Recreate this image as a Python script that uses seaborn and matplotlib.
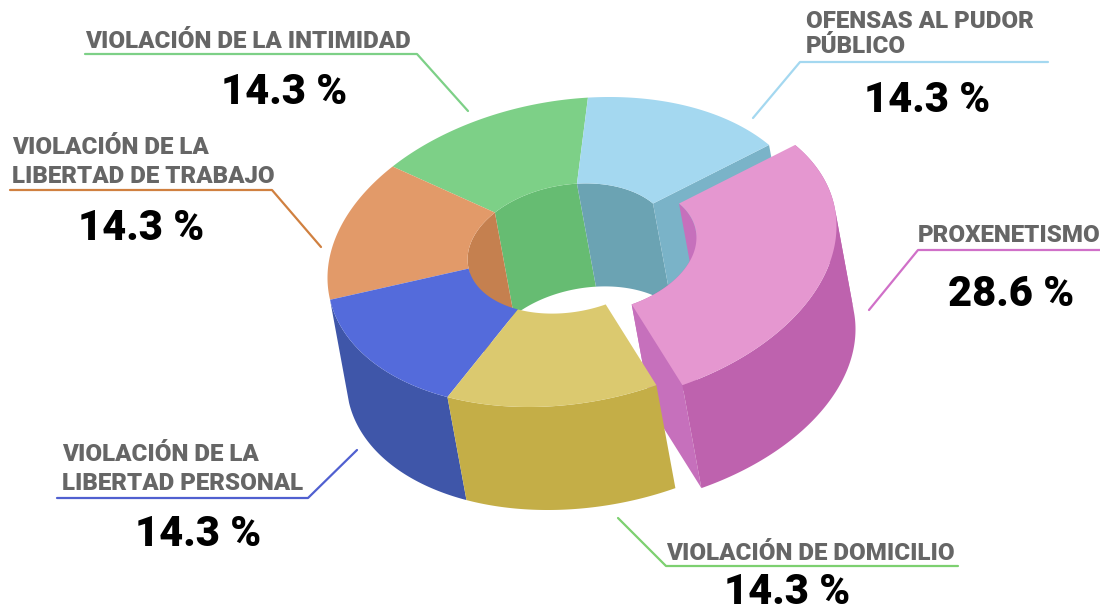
"""
Exploded 3D donut: delitos por categoria
Top faces, walls and cut faces are projected from the share of each category
"""

import numpy as np
import matplotlib
matplotlib.use('Agg')
import matplotlib.pyplot as plt
import seaborn as sns

# Data, counter-clockwise on screen from the green / light blue boundary
categories = ['VIOLACIÓN DE LA INTIMIDAD', 'VIOLACIÓN DE LA\nLIBERTAD DE TRABAJO',
              'VIOLACIÓN DE LA\nLIBERTAD PERSONAL', 'VIOLACIÓN DE DOMICILIO',
              'PROXENETISMO', 'OFENSAS AL PUDOR\nPÚBLICO']
shares = [14.3, 14.3, 14.3, 14.3, 28.6, 14.3]

top_colors = ['#7DD087', '#E29A69', '#546BDB', '#DBC96F', '#E597D0', '#A4D8F0']
wall_colors = ['#7DD087', '#E29A69', '#3F56A9', '#C4AE47', '#BE62AE', '#7AB3C8']
inner_colors = ['#66BC72', '#C5804F', '#3F56A9', '#C4AE47', '#C670BC', '#6BA3B3']
cut_pink = '#C670BC'
line_colors = ['#7DD087', '#D08040', '#5060D0', '#7DD070', '#D070C8', '#A4D8F0']

# Layout in pixels: leader polyline, label anchor, value anchor
leaders = [
    ([85, 417, 468], [54, 54, 111]),
    ([10, 272, 321], [190, 190, 247]),
    ([57, 308, 357], [498, 498, 450]),
    ([958, 666, 618], [566, 566, 518]),
    ([1100, 918, 869], [250, 250, 310]),
    ([1048, 800, 753], [62, 62, 118]),
]
label_pos = [(85, 41), (12, 162), (62, 469), (666, 553), (918, 236), (806, 34)]
label_spacing = [1.0, 1.28, 1.28, 1.0, 1.0, 1.12]
value_pos = [(284, 93), (141, 228), (198, 535), (787, 593), (1011, 294), (927, 100)]

CX, CY = 569, 252
RX, RY = 241.5, 155
PHASE = 85.5
INNER = 0.42
INNER_DY = -3.5
DEPTH = (19, 103)
EXPLODE = {4: (26, 0)}


def project(theta, ratio=1.0, dx=0, dy=0):
    """Map angle in degrees on the ring to pixel coordinates of the top face"""
    theta = np.asarray(theta, dtype=float)
    x = CX + ratio * RX * np.cos(np.radians(theta + PHASE))
    y = CY + ratio * RY * np.cos(np.radians(theta - 174.9))
    if ratio < 1:
        y = y + INNER_DY
    return x + dx, y + dy


def arc(start, end, ratio=1.0, dx=0, dy=0):
    return project(np.linspace(start, end, 200), ratio, dx, dy)


def band(start, end, ratio, color, off, ax):
    """Wall between the top arc and the same arc pushed down by DEPTH"""
    x0, y0 = arc(start, end, ratio, off[0], off[1])
    # split where the arc turns away from the extrusion, so each outline is simple
    side = np.gradient(x0) * DEPTH[1] - np.gradient(y0) * DEPTH[0] > 0
    for mask in (side, ~side):
        if mask.sum() < 2:
            continue
        xs, ys = x0[mask], y0[mask]
        ax.fill(np.r_[xs, xs[::-1] + DEPTH[0]], np.r_[ys, ys[::-1] + DEPTH[1]],
                color=color, lw=0)


def radial(theta, color, off, ax):
    """Flat cut face of a slice, seen where the pink slice moved away"""
    xi, yi = project(theta, INNER, off[0], off[1])
    xo, yo = project(theta, 1.0, off[0], off[1])
    ax.fill([xi, xo, xo + DEPTH[0], xi + DEPTH[0]],
            [yi, yo, yo + DEPTH[1], yi + DEPTH[1]], color=color, lw=0)


def top_face(start, end, color, off, ax):
    xo, yo = arc(start, end, 1.0, off[0], off[1])
    xi, yi = arc(end, start, INNER, off[0], off[1])
    ax.fill(np.r_[xo, xi], np.r_[yo, yi], color=color, lw=0)


sns.set_theme(style='white')
plt.rcParams['font.family'] = ['Roboto', 'DejaVu Sans']

fig, ax = plt.subplots(figsize=(11, 6.13), dpi=100)
fig.subplots_adjust(0, 0, 1, 1)
ax.set_xlim(0, 1100)
ax.set_ylim(613, 0)
ax.axis('off')

edges = 360 * np.r_[0, np.cumsum(shares)] / np.sum(shares)
none = (0, 0)
off = EXPLODE[4]

# Inner walls at the back of the hole
for i in [0, 1, 5]:
    band(edges[i], edges[i + 1], INNER, inner_colors[i], none, ax)

# Cut faces and pink inner wall, the yellow slice goes in front of them
radial(edges[5], wall_colors[5], none, ax)
band(edges[4], edges[5], INNER, inner_colors[4], off, ax)
radial(edges[4], cut_pink, off, ax)

# Outer walls at the front
for i in [2, 3]:
    band(edges[i], edges[i + 1], 1.0, wall_colors[i], none, ax)

# Top faces of the slices that stay in place
for i in [0, 1, 2, 3, 5]:
    top_face(edges[i], edges[i + 1], top_colors[i], none, ax)

# Pink slice, moved out to the right
band(edges[4], edges[5], 1.0, wall_colors[4], off, ax)
top_face(edges[4], edges[5], top_colors[4], off, ax)

# Leaders and labels
for i, name in enumerate(categories):
    lx, ly = leaders[i]
    sns.lineplot(x=lx, y=ly, sort=False, estimator=None, color=line_colors[i],
                 linewidth=1.6, ax=ax, legend=False)
    ax.text(label_pos[i][0], label_pos[i][1], name, fontsize=17.4, fontweight=900,
            color='#666666', ha='left', va='center', linespacing=label_spacing[i])
    ax.text(value_pos[i][0], value_pos[i][1], f'{shares[i]} %', fontsize=30,
            fontweight=900, color='black', ha='center', va='center')

plt.savefig('out.png', dpi=100)
plt.close()
